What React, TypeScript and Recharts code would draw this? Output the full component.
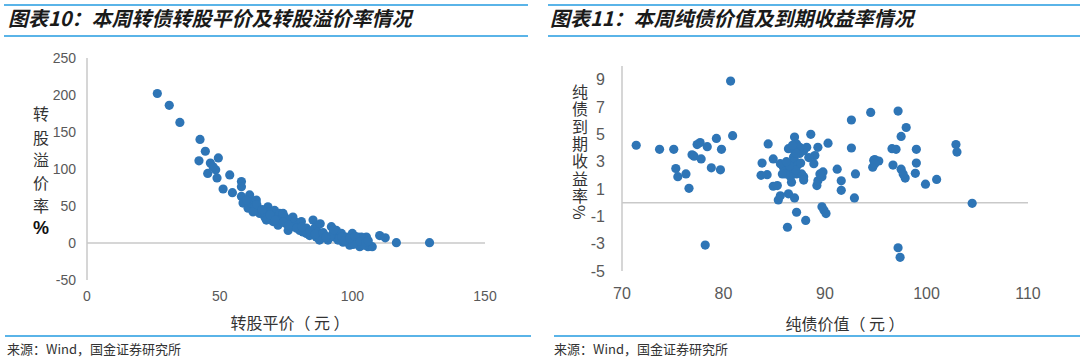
import React from 'react';
import { ScatterChart, Scatter, XAxis, YAxis, ReferenceLine } from 'recharts';

// ---- Left chart: 转股平价 vs 转股溢价率 ----
const leftParity = [
  26.5, 31.0, 35.0, 42.6, 44.6, 42.2, 49.5, 46.5, 48.5, 45.5, 49.0, 47.5, 53.8, 51.3, 54.8,
  58.2, 58.2, 58.2, 58.8, 60.7, 61.3, 61.9, 63.8, 63.2, 65.1, 67.0, 68.2, 68.8, 69.5, 70.1,
  70.7, 71.4, 72.6, 73.2, 74.5, 75.1, 75.8, 76.4, 77.6, 78.3, 79.5, 80.8, 81.4, 82.7, 83.9,
  85.2, 85.8, 87.1, 87.9, 88.3, 89.6, 90.8, 92.1, 92.7, 93.3, 94.0, 94.6, 95.9, 96.5, 97.7,
  99.0, 100.0, 100.9, 102.1, 102.8, 104.0, 105.3, 105.9, 107.5, 110.3, 112.4, 116.6, 129.1,
  60.1, 62.6, 66.3, 67.6, 72.0, 73.9, 77.0, 80.2, 82.7, 86.4, 87.6, 91.5, 95.2, 98.4, 101.5,
  103.4, 104.6, 100.3,
  64.0, 66.0, 69.0, 71.0, 74.0, 76.0, 79.0, 81.0, 84.0, 86.0, 89.0, 90.0, 93.0, 96.0, 97.0,
  99.0, 101.0, 103.0, 105.0, 106.0,
];
const leftPremium = [
  202, 186, 163, 140, 124, 111, 115, 108, 99, 94, 88, 103, 92, 73, 68,
  83, 76, 63, 54, 47, 65, 54, 58, 49, 40, 35, 49, 42, 33, 29,
  44, 35, 40, 31, 35, 26, 17, 29, 35, 29, 24, 29, 15, 20, 10,
  31, 20, 15, 26, 6, 10, 4, 22, 13, 8, 17, 4, 13, 1, 8,
  -3, 13, 4, 8, -5, 1, 8, -5, -5, 10, 7, 0.5, 0.5,
  58, 42, 42, 31, 24, 40, 22, 17, 13, 8, 4, 8, 6, 4, -1,
  8, -3, -2,
  52, 45, 38, 31, 28, 24, 20, 22, 16, 12, 14, 8, 18, 8, 3,
  6, 9, 2, 1, 3,
];
const leftXTicks = [0, 50, 100, 150];
const leftYTicks = [-50, 0, 50, 100, 150, 200, 250];

// ---- Right chart: 纯债价值 vs 纯债到期收益率 ----
const rightBondValue = [
  71.4, 73.7, 75.1, 75.3, 75.5, 76.3, 76.6, 76.9, 77.1, 77.4, 77.7, 77.8, 78.4, 78.2, 78.8,
  79.3, 79.7, 79.8, 80.7, 80.9,
  84.4, 83.8, 83.7, 84.3, 84.9, 84.9, 85.3, 85.4, 85.6, 86.4, 87.0, 87.2, 86.3, 88.1, 86.4,
  87.0, 86.9, 86.7, 86.2, 85.9, 85.6, 87.2, 87.5, 87.9, 88.2, 88.6, 88.9, 89.0, 89.3, 87.9,
  87.7, 87.9, 89.2, 89.3, 89.7, 89.8, 89.5, 89.7, 89.9, 90.1, 90.3,
  86.7, 87.0, 87.3, 86.9, 86.6, 86.1, 87.2, 87.5, 87.0, 87.2,
  86.8, 87.1, 86.5, 87.6, 88.4, 86.2, 85.8,
  91.2, 91.6, 91.6, 92.6, 92.6, 92.9, 93.0, 94.5, 94.7, 94.8, 94.9, 95.3, 94.9,
  96.6, 96.7, 97.0, 97.2, 97.5, 97.5, 97.9, 97.7, 98.0, 97.2, 97.4, 99.0, 99.0, 98.9,
  99.9, 101.0, 102.9, 103.0, 104.5,
];
const rightYtm = [
  4.2, 3.9, 3.9, 2.5, 1.9, 2.1, 1.05, 3.5, 3.4, 4.25, 4.4, 3.2, 4.1, -3.1, 2.55,
  4.7, 2.4, 3.9, 8.9, 4.9,
  4.3, 2.9, 2.0, 2.05, 3.2, 1.2, 1.25, 0.2, 0.5, 0.65, 0.35, -0.7, -1.8, -1.3, 3.95,
  4.8, 3.35, 1.5, 2.35, 2.6, 2.85, 4.3, 3.6, 3.8, 4.05, 5.0, 2.85, 3.45, 4.05, 1.9,
  2.1, 1.65, 1.25, 1.6, 1.9, 2.25, 2.1, -0.3, -0.55, -0.8, 4.35,
  2.85, 3.1, 2.75, 2.25, 1.9, 2.1, 2.1, 4.05, 3.8, 3.6,
  4.2, 2.4, 2.7, 2.9, 3.3, 3.0, 2.1,
  2.45, 1.6, 0.9, 6.05, 4.0, 0.35, 2.1, 6.6, 2.6, 3.1, 3.15, 3.05, 2.85,
  3.95, 2.75, 3.9, 6.7, 2.45, 4.85, 1.8, 2.1, 5.5, -3.3, -4.0, 3.9, 2.9, 2.15,
  1.35, 1.7, 4.25, 3.7, -0.05,
];
const rightXTicks = [70, 80, 90, 100, 110];
const rightYTicks = [-5, -3, -1, 1, 3, 5, 7, 9];

const leftData = leftParity.map((x, i) => ({ x, y: leftPremium[i] }));
const rightData = rightBondValue.map((x, i) => ({ x, y: rightYtm[i] }));

const BLUE = '#2E75B6';
const AXIS = '#C9C9C9';
const LINE_BLUE = '#5AB4E8';
const TICK_FONT = "'Liberation Sans', Arial, sans-serif";
const CJK = "'Noto Sans CJK SC', sans-serif";

function Dot(props: any) {
  const { cx, cy } = props;
  if (cx == null || cy == null) return null;
  return <circle cx={cx} cy={cy} r={4.6} fill={BLUE} />;
}

const abs = (s: React.CSSProperties): React.CSSProperties => ({ position: 'absolute', ...s });

export default function App() {
  const titleStyle: React.CSSProperties = {
    fontFamily: CJK,
    fontWeight: 700,
    fontStyle: 'italic',
    fontSize: 20,
    color: '#1a1a1a',
    whiteSpace: 'nowrap',
    lineHeight: '20px',
  };
  const sourceStyle: React.CSSProperties = {
    fontFamily: CJK,
    fontSize: 13,
    color: '#333',
    whiteSpace: 'nowrap',
    lineHeight: '14px',
  };
  const axisTitle: React.CSSProperties = {
    fontFamily: CJK,
    fontSize: 16,
    color: '#333',
    whiteSpace: 'nowrap',
    lineHeight: '18px',
  };
  const leftYChars = ['转', '股', '溢', '价', '率'];
  const leftYPos = [113, 137, 159, 182, 205];

  return (
    <div style={abs({ left: 0, top: 0, width: 1080, height: 364, background: '#fff', overflow: 'hidden' })}>
      {/* header lines */}
      <div style={abs({ left: 4, top: 4, width: 524, height: 2, background: LINE_BLUE })} />
      <div style={abs({ left: 4, top: 35, width: 524, height: 2, background: LINE_BLUE })} />
      <div style={abs({ left: 548, top: 4, width: 532, height: 2, background: LINE_BLUE })} />
      <div style={abs({ left: 548, top: 35, width: 532, height: 2, background: LINE_BLUE })} />
      <div style={abs({ left: 8, top: 8, ...titleStyle })}>图表10：本周转债转股平价及转股溢价率情况</div>
      <div style={abs({ left: 550, top: 8, ...titleStyle })}>图表11：本周纯债价值及到期收益率情况</div>

      {/* footer lines */}
      <div style={abs({ left: 5, top: 335, width: 526, height: 2, background: LINE_BLUE })} />
      <div style={abs({ left: 554, top: 335, width: 526, height: 2, background: LINE_BLUE })} />
      <div style={abs({ left: 7, top: 342, ...sourceStyle })}>来源：Wind，国金证券研究所</div>
      <div style={abs({ left: 554, top: 342, ...sourceStyle })}>来源：Wind，国金证券研究所</div>

      {/* left chart */}
      <div style={abs({ left: 0, top: 0 })}>
        <ScatterChart width={540} height={340} margin={{ top: 58, right: 55, bottom: 30, left: 27 }}>
          <XAxis
            type="number"
            dataKey="x"
            domain={[0, 150]}
            ticks={leftXTicks}
            interval={0}
            axisLine={false}
            tickLine={false}
            tickSize={0}
            tickMargin={11}
            height={30}
            tick={{ fill: '#595959', fontSize: 14, fontFamily: TICK_FONT }}
          />
          <YAxis
            type="number"
            dataKey="y"
            domain={[-50, 250]}
            ticks={leftYTicks}
            interval={0}
            axisLine={{ stroke: AXIS, strokeWidth: 1.5 }}
            tickLine={false}
            tickSize={0}
            tickMargin={11}
            width={60}
            tick={{ fill: '#595959', fontSize: 14, fontFamily: TICK_FONT }}
          />
          <ReferenceLine y={0} stroke={AXIS} strokeWidth={1.5} />
          <Scatter data={leftData} shape={<Dot />} isAnimationActive={false} />
        </ScatterChart>
      </div>
      {leftYChars.map((c, i) => (
        <div key={c + i} style={abs({ left: 33, top: leftYPos[i] - 8, ...axisTitle, fontSize: 16, lineHeight: '16px' })}>{c}</div>
      ))}
      <div style={abs({ left: 33, top: 219, fontFamily: TICK_FONT, fontWeight: 700, fontSize: 18, color: '#111', lineHeight: '18px' })}>%</div>
      <div style={abs({ left: 290, top: 313, transform: 'translateX(-50%)', ...axisTitle })}>转股平价（ 元 ）</div>

      {/* right chart */}
      <div style={abs({ left: 540, top: 0 })}>
        <ScatterChart width={540} height={340} margin={{ top: 66, right: 52, bottom: 39, left: 22 }}>
          <XAxis
            type="number"
            dataKey="x"
            domain={[70, 110]}
            ticks={rightXTicks}
            interval={0}
            axisLine={false}
            tickLine={false}
            tickSize={0}
            tickMargin={17}
            height={30}
            tick={{ fill: '#595959', fontSize: 16, fontFamily: TICK_FONT }}
          />
          <YAxis
            type="number"
            dataKey="y"
            domain={[-5, 10]}
            ticks={rightYTicks}
            interval={0}
            axisLine={{ stroke: AXIS, strokeWidth: 1.5 }}
            tickLine={false}
            tickSize={0}
            tickMargin={17}
            width={60}
            tick={{ fill: '#595959', fontSize: 16, fontFamily: TICK_FONT }}
          />
          <ReferenceLine y={0} stroke={AXIS} strokeWidth={1.5} />
          <Scatter data={rightData} shape={<Dot />} isAnimationActive={false} />
        </ScatterChart>
      </div>
      <div
        style={abs({
          left: 571,
          top: 84,
          writingMode: 'vertical-rl',
          letterSpacing: 1.3,
          ...axisTitle,
          lineHeight: '18px',
        })}
      >
        纯债到期收益率%
      </div>
      <div style={abs({ left: 845, top: 314, transform: 'translateX(-50%)', ...axisTitle })}>纯债价值（ 元 ）</div>
    </div>
  );
}
